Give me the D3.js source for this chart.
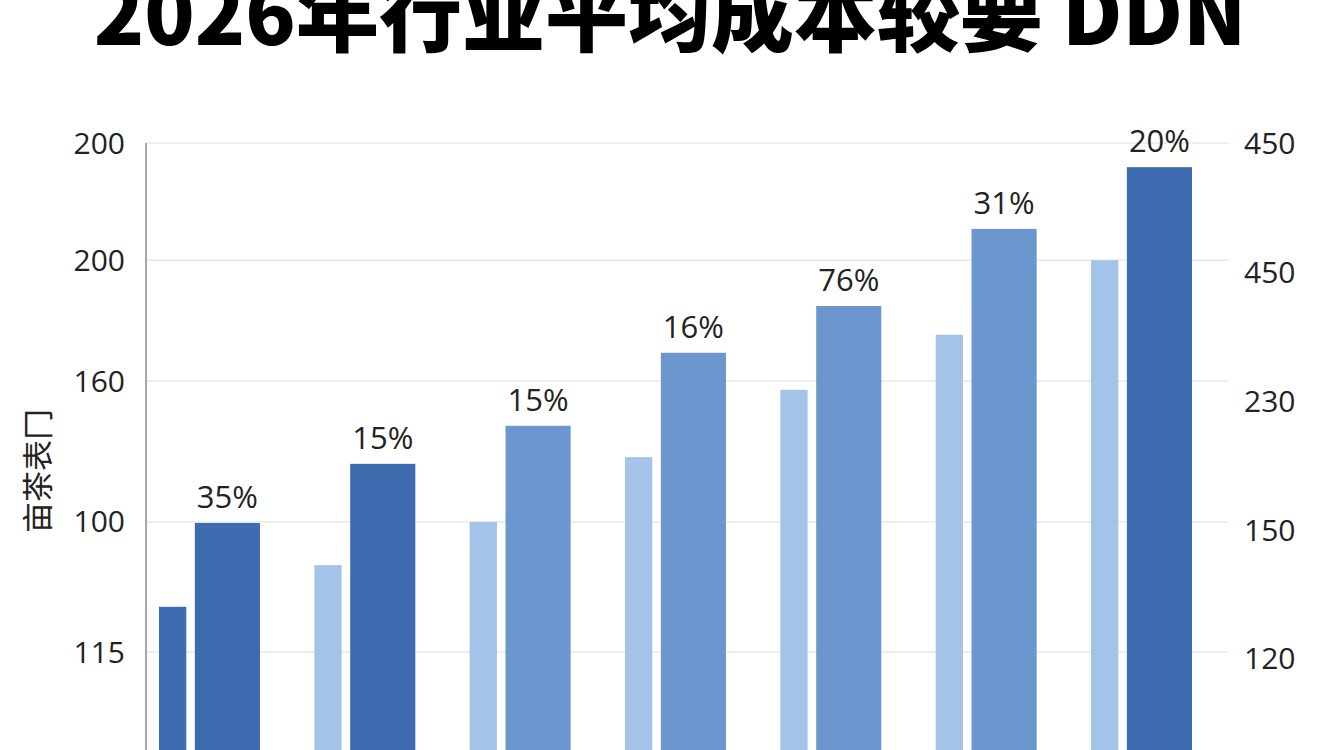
<!DOCTYPE html>
<html>
<head>
<meta charset="utf-8">
<script src="https://cdn.jsdelivr.net/npm/d3@7"></script>
<style>
    html, body { margin: 0; padding: 0; background: #ffffff; overflow: hidden; }
    svg { display: block; }
</style>
</head>
<body>
<div id="chart"></div>
<script>
// Chart data
const titleText = '2026年行业平均成本较要 DDN';
const yAxisTitle = '亩茶表冂';
const categories = ['G1', 'G2', 'G3', 'G4', 'G5', 'G6', 'G7'];
const smallValues = [29.8, 37.9, 46.3, 58.9, 72.0, 82.7, 97.2];
const bigValues = [46.1, 57.6, 65.0, 79.2, 88.3, 103.3, 115.3];
const pctLabels = ['35%', '15%', '15%', '16%', '76%', '31%', '20%'];
const leftTickValues = [120, 97.2, 73.7, 46.3, 21.0];
const leftTickLabels = ['200', '200', '160', '100', '115'];
const rightTickValues = [120, 94.9, 69.8, 44.7, 19.8];
const rightTickLabels = ['450', '450', '230', '150', '120'];

// Styles
const DARK = '#3f6cb0';
const MEDIUM = '#6c97ce';
const LIGHT = '#a4c3e8';
const smallColors = [DARK, LIGHT, LIGHT, LIGHT, LIGHT, LIGHT, LIGHT];
const bigColors = [DARK, DARK, MEDIUM, MEDIUM, MEDIUM, MEDIUM, DARK];
const labelFont = '"Open Sans", "Noto Sans", sans-serif';

const width = 1344;
const height = 750;

const svg = d3.select('#chart')
    .append('svg')
    .attr('width', width)
    .attr('height', height);

const x = d3.scaleBand()
    .domain(categories)
    .range([159, 1192])
    .paddingInner(0.35)
    .paddingOuter(0);

const y = d3.scaleLinear()
    .domain([0, 120])
    .range([760, 143]);

// Gridlines
svg.append('g')
    .selectAll('line')
    .data(leftTickValues)
    .join('line')
    .attr('x1', 146)
    .attr('x2', 1228)
    .attr('y1', d => y(d))
    .attr('y2', d => y(d))
    .attr('stroke', '#e8e8e8')
    .attr('stroke-width', 1.5);

// Left axis line
svg.append('line')
    .attr('x1', 146)
    .attr('x2', 146)
    .attr('y1', y(120))
    .attr('y2', height)
    .attr('stroke', '#8a8a8a')
    .attr('stroke-width', 1.5);

// Left tick labels
svg.append('g')
    .selectAll('text')
    .data(leftTickValues)
    .join('text')
    .attr('x', 125)
    .attr('y', d => y(d))
    .attr('dy', '0.35em')
    .attr('text-anchor', 'end')
    .style('font-family', labelFont)
    .style('font-size', '30px')
    .style('fill', '#222')
    .text((d, i) => leftTickLabels[i]);

// Right tick labels
svg.append('g')
    .selectAll('text')
    .data(rightTickValues)
    .join('text')
    .attr('x', 1244)
    .attr('y', d => y(d))
    .attr('dy', '0.35em')
    .attr('text-anchor', 'start')
    .style('font-family', labelFont)
    .style('font-size', '30px')
    .style('fill', '#222')
    .text((d, i) => rightTickLabels[i]);

// Y axis title
svg.append('text')
    .attr('transform', 'translate(38,471) rotate(-90)')
    .attr('dy', '0.35em')
    .attr('text-anchor', 'middle')
    .style('font-family', '"Noto Sans CJK SC", sans-serif')
    .style('font-size', '31px')
    .style('fill', '#222')
    .text(yAxisTitle);

// Bars
const groups = svg.append('g')
    .selectAll('g')
    .data(categories)
    .join('g')
    .attr('transform', d => `translate(${x(d)},0)`);

const bw = x.bandwidth();

groups.append('rect')
    .attr('x', 0)
    .attr('width', bw * 0.27)
    .attr('y', (d, i) => y(smallValues[i]))
    .attr('height', (d, i) => y(0) - y(smallValues[i]))
    .attr('fill', (d, i) => smallColors[i]);

groups.append('rect')
    .attr('x', bw * 0.355)
    .attr('width', bw * 0.645)
    .attr('y', (d, i) => y(bigValues[i]))
    .attr('height', (d, i) => y(0) - y(bigValues[i]))
    .attr('fill', (d, i) => bigColors[i]);

groups.append('text')
    .attr('x', bw * 0.355 + bw * 0.645 / 2)
    .attr('y', (d, i) => y(bigValues[i]) - 15)
    .attr('text-anchor', 'middle')
    .style('font-family', labelFont)
    .style('font-size', '31px')
    .style('fill', '#222')
    .text((d, i) => pctLabels[i]);

// Title (runs off the top edge, as in the reference)
svg.append('text')
    .attr('x', 670)
    .attr('y', 45)
    .attr('text-anchor', 'middle')
    .style('font-family', '"Noto Sans CJK SC", sans-serif')
    .style('font-weight', 900)
    .style('font-size', '83px')
    .style('fill', '#000')
    .text(titleText);
</script>
</body>
</html>
